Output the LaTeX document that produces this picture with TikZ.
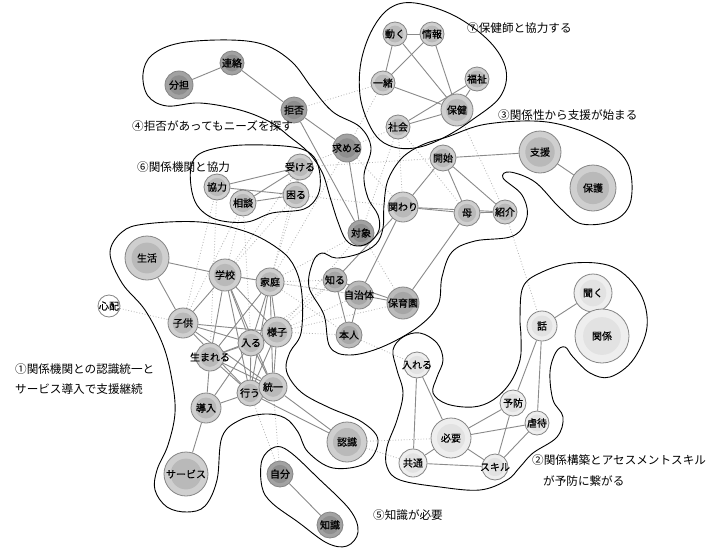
\documentclass[tikz,border=0pt]{standalone}
\usepackage{fontspec}
\setmainfont{Noto Sans CJK JP}
\newfontfamily\nodefont{Noto Sans CJK JP}[FakeBold=0.6]
\usetikzlibrary{backgrounds}
\definecolor{nodeedge}{HTML}{858585}
\definecolor{dring}{HTML}{A2A2A2}
\definecolor{dcore}{HTML}{8E8E8E}
\definecolor{mdring}{HTML}{BBBBBB}
\definecolor{mdcore}{HTML}{A6A6A6}
\definecolor{mring}{HTML}{CFCFCF}
\definecolor{mcore}{HTML}{B9B9B9}
\definecolor{lring}{HTML}{EEEEEE}
\definecolor{lcore}{HTML}{E2E2E2}
\definecolor{edgecol}{HTML}{8A8A8A}
\definecolor{dotcol}{HTML}{B2B2B2}
\newcommand{\ntext}[1]{\makebox[0pt]{#1}}
\tikzset{
  nd/.style n args={3}{circle, draw=nodeedge, line width=0.8pt, fill=#2,
    minimum size={2*#1}, inner sep=0pt, text=black,
    font=\nodefont\fontsize{10}{10}\selectfont,
    path picture={\fill[#3] (path picture bounding box.center) circle ({0.7*#1*1pt});}},
  toneD/.style={nd={#1}{dring}{dcore}},
  toneMD/.style={nd={#1}{mdring}{mdcore}},
  toneM/.style={nd={#1}{mring}{mcore}},
  toneL/.style={nd={#1}{lring}{lcore}},
  toneW/.style={nd={#1}{white}{white}},
  lab/.style={anchor=west, inner sep=0pt, text=black, font=\fontsize{11.6}{14}\selectfont},
  ln/.style={draw=edgecol, line width=0.9pt},
  dt/.style={draw=dotcol, dotted, line width=0.8pt},
  grp/.style={draw=black, line width=0.9pt},
}
\begin{document}
\begin{tikzpicture}[x=1pt, y=-1pt]
\useasboundingbox (0,0) rectangle (712,549);
% group 4
\node[toneD=14] (fentan) at (179,85) {\ntext{分担}};
\node[toneD=12] (renraku) at (232,63) {\ntext{連絡}};
\node[toneD=13] (kyohi) at (294,110) {\ntext{拒否}};
\node[toneD=14] (motomeru) at (347,148) {\ntext{求める}};
\node[toneD=13] (taisho) at (361,233) {\ntext{対象}};
% group 6
\node[toneM=13] (kyoryoku) at (217,187) {\ntext{協力}};
\node[toneM=13] (sodan) at (243,203) {\ntext{相談}};
\node[toneM=13] (ukeru) at (300,167) {\ntext{受ける}};
\node[toneM=13] (komaru) at (296,195) {\ntext{困る}};
% group 7
\node[toneM=12] (ugoku) at (395,34) {\ntext{動く}};
\node[toneM=12] (joho) at (432,34) {\ntext{情報}};
\node[toneM=12] (issho) at (383,83) {\ntext{一緒}};
\node[toneM=12] (fukushi) at (477,79) {\ntext{福祉}};
\node[toneM=16] (hoken) at (457,110) {\ntext{保健}};
\node[toneM=12] (shakai) at (398,127) {\ntext{社会}};
% group 3
\node[toneM=13] (kaishi) at (443,158) {\ntext{開始}};
\node[toneM=21] (shien) at (540,152) {\ntext{支援}};
\node[toneM=23] (hogo) at (593,188) {\ntext{保護}};
\node[toneM=15] (kakawari) at (403,207) {\ntext{関わり}};
\node[toneM=13] (haha) at (467,213) {\ntext{母}};
\node[toneM=12] (shokai) at (505,212) {\ntext{紹介}};
% centre
\node[toneMD=12] (shiru) at (335,280) {\ntext{知る}};
\node[toneMD=14] (jichitai) at (359,295) {\ntext{自治体}};
\node[toneMD=16] (hoikuen) at (403,303) {\ntext{保育園}};
\node[toneMD=13] (honnin) at (349,335) {\ntext{本人}};
% group 1
\node[toneM=22] (seikatsu) at (147,258) {\ntext{生活}};
\node[toneM=16] (gakko) at (225,275) {\ntext{学校}};
\node[toneM=14] (katei) at (270,282) {\ntext{家庭}};
\node[toneM=15] (kodomo) at (183,323) {\ntext{子供}};
\node[toneM=15] (yosu) at (277,332) {\ntext{様子}};
\node[toneM=13] (hairu) at (251,343) {\ntext{入る}};
\node[toneM=14] (umareru) at (210,357) {\ntext{生まれる}};
\node[toneM=13] (okonau) at (250,393) {\ntext{行う}};
\node[toneM=14] (toitsu) at (273,387) {\ntext{統一}};
\node[toneM=15] (donyu) at (206,408) {\ntext{導入}};
\node[toneM=22] (service) at (186,474) {\ntext{サービス}};
\node[toneM=20] (ninshiki) at (347,442) {\ntext{認識}};
\node[toneW=11] (shinpai) at (109,306) {\ntext{心配}};
% group 5
\node[toneD=13] (jibun) at (280,474) {\ntext{自分}};
\node[toneD=13] (chishiki) at (330,525) {\ntext{知識}};
% group 2
\node[toneL=19] (kiku) at (593,293) {\ntext{聞く}};
\node[toneL=27] (kankei) at (602,336) {\ntext{関係}};
\node[toneL=15] (hanashi) at (542,326) {\ntext{話}};
\node[toneL=13] (ireru) at (417,365) {\ntext{入れる}};
\node[toneL=13] (yobo) at (513,403) {\ntext{予防}};
\node[toneL=12] (gyakutai) at (537,423) {\ntext{虐待}};
\node[toneL=20] (hitsuyo) at (451,438) {\ntext{必要}};
\node[toneL=14] (kyotsu) at (413,463) {\ntext{共通}};
\node[toneL=13] (skill) at (495,467) {\ntext{スキル}};

% labels
\node[lab] (l7) at (467,28) {⑦保健師と協力する};
\node[lab] (l3) at (498,115) {③関係性から支援が始まる};
\node[lab] (l4) at (132,126) {④拒否があってもニーズを探す};
\node[lab] (l6) at (137,167) {⑥関係機関と協力};
\node[lab] (l1a) at (15,369) {①関係機関との認識統一と};
\node[lab] (l1b) at (15,389) {サービス導入で支援継続};
\node[lab] (l2a) at (532,460) {②関係構築とアセスメントスキル};
\node[lab] (l2b) at (543,481) {が予防に繋がる};
\node[lab] (l5) at (373,515) {⑤知識が必要};

% group contours
\draw[grp] plot[smooth cycle, tension=0.6] coordinates {
 (152,55) (180,43) (230,40) (265,45) (292,62) (312,88) (333,112) (360,127) (371,148)
 (364,175) (368,198) (378,215) (379,230) (370,242) (357,246) (346,240) (338,222)
 (330,197) (322,172) (308,152) (290,137) (270,122) (240,110) (200,103) (167,106)
 (148,96) (143,74)};
\draw[grp] plot[smooth cycle, tension=0.6] coordinates {
 (415,3) (455,16) (490,42) (506,70) (500,97) (472,120) (445,137) (420,147) (398,148)
 (380,140) (368,122) (360,95) (361,62) (372,30) (390,8)};
\draw[grp] plot[smooth cycle, tension=0.6] coordinates {
 (447,137) (487,124) (547,122) (597,138) (627,162) (631,200) (615,220) (582,224)
 (560,208) (535,182) (510,172) (503,178) (522,195) (527,217) (513,236) (475,241)
 (452,252) (442,277) (438,305) (418,327) (382,347) (350,355) (330,347) (324,315)
 (309,287) (313,262) (322,253) (336,258) (358,254) (376,244) (383,228) (384,205)
 (388,180) (402,158) (422,145)};
\draw[grp] plot[smooth cycle, tension=0.6] coordinates {
 (191,167) (201,153) (230,146) (265,145) (298,148) (314,157) (320,175) (318,195)
 (304,209) (272,213) (247,222) (218,220) (200,209) (192,192)};
\draw[grp] plot[smooth cycle, tension=0.6] coordinates {
 (262,460) (275,447) (290,452) (318,478) (350,510) (358,532) (347,546) (327,543)
 (298,522) (272,503) (262,487)};
\draw[grp] plot[smooth cycle, tension=0.6] coordinates {
 (520,317) (523,287) (540,273) (573,263) (613,267) (640,293) (647,327) (633,360)
 (610,377) (590,373) (573,357) (565,347) (556,352) (550,372) (553,400) (563,417)
 (557,437) (533,453) (520,467) (507,480) (480,490) (440,487) (400,480) (387,467)
 (387,447) (397,420) (403,393) (397,370) (393,350) (403,337) (420,333) (437,343)
 (443,360) (437,377) (433,393) (447,404) (473,407) (493,400) (510,383) (520,360) (521,337)};
\draw[grp] plot[smooth cycle, tension=0.6] coordinates {
 (110,253) (122,232) (145,224) (200,222) (247,232) (280,250) (295,268) (302,295)
 (301,333) (290,352) (286,368) (292,382) (305,395) (330,408) (362,422) (378,440)
 (366,463) (333,468) (308,452) (298,432) (285,418) (265,414) (240,420) (222,437)
 (217,480) (205,506) (187,512) (167,507) (155,490) (157,470) (168,445) (175,413)
 (172,380) (163,345) (145,310) (122,283)};

\begin{scope}[on background layer]
\fill[white] (0,0) rectangle (712,549);
% dotted cross links
\foreach \a/\b in {shinpai/kodomo, ninshiki/hitsuyo, ninshiki/kyotsu, okonau/jibun,
  toitsu/jibun, honnin/ireru, shokai/hanashi, katei/shiru, katei/jichitai,
  katei/honnin, yosu/shiru, yosu/jichitai, yosu/honnin, yosu/hoikuen, hairu/shiru,
  gakko/jichitai, gakko/komaru, gakko/ukeru, katei/komaru, katei/ukeru,
  katei/motomeru, katei/taisho, gakko/sodan, kodomo/sodan, kodomo/kyoryoku,
  umareru/kyoryoku, hairu/sodan, yosu/taisho, ukeru/kaishi, komaru/kakawari,
  motomeru/kakawari, motomeru/shakai, issho/motomeru, issho/kyohi,
  shakai/kakawari, shakai/haha, shakai/taisho, hoken/shokai, taisho/hoikuen,
  ukeru/motomeru}
  \draw[dt] (\a) -- (\b);
% solid links
\foreach \a/\b in {fentan/renraku, renraku/kyohi, kyohi/motomeru, kyohi/taisho,
  motomeru/taisho,
  kyoryoku/ukeru, kyoryoku/komaru, sodan/ukeru, sodan/komaru, ukeru/komaru,
  ugoku/joho, ugoku/issho, ugoku/hoken, joho/issho, joho/hoken, issho/hoken,
  fukushi/hoken, fukushi/shakai, shakai/hoken,
  kaishi/shien, shien/hogo, kaishi/kakawari, kaishi/haha, kaishi/shokai,
  kakawari/haha, kakawari/shokai, haha/shokai, kakawari/shiru, kakawari/jichitai,
  haha/hoikuen,
  shiru/honnin, jichitai/honnin, jichitai/hoikuen, shiru/hoikuen,
  hanashi/kiku, hanashi/yobo, hanashi/gyakutai, ireru/kyotsu, ireru/hitsuyo,
  yobo/hitsuyo, yobo/skill, gyakutai/hitsuyo, gyakutai/skill, hitsuyo/kyotsu,
  hitsuyo/skill, kyotsu/skill,
  jibun/chishiki,
  seikatsu/gakko, seikatsu/kodomo, gakko/katei, gakko/kodomo, gakko/umareru,
  gakko/hairu, gakko/toitsu, gakko/okonau, gakko/yosu, katei/umareru, katei/hairu,
  katei/yosu, katei/toitsu, katei/okonau, kodomo/yosu, kodomo/hairu, kodomo/toitsu,
  kodomo/okonau, umareru/hairu, umareru/yosu, umareru/donyu, umareru/toitsu,
  umareru/okonau, hairu/toitsu, hairu/okonau, yosu/toitsu, yosu/okonau,
  donyu/okonau, donyu/hairu, donyu/service, toitsu/ninshiki, okonau/ninshiki}
  \draw[ln] (\a) -- (\b);
\end{scope}
\end{tikzpicture}
\end{document}
